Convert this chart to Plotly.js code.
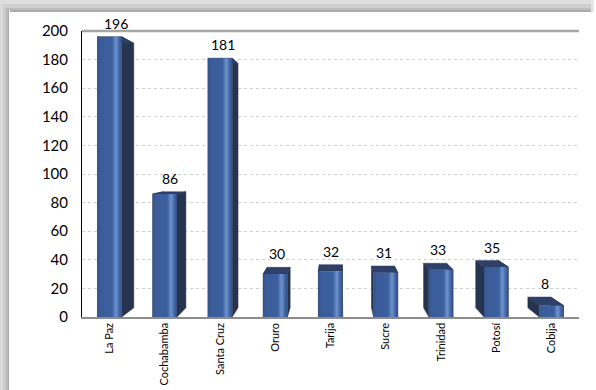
<!DOCTYPE html>
<html>
<head>
<meta charset="utf-8">
<script src="https://cdn.plot.ly/plotly-3.0.1.min.js"></script>
<style>
html,body{margin:0;padding:0;background:#ffffff;}
#chart{width:596px;height:390px;}
</style>
</head>
<body>
<div id="chart"></div>
<script>
// ---- data ----
const categories = ["La Paz","Cochabamba","Santa Cruz","Oruro","Tarija","Sucre","Trinidad","Potosí","Cobija"];
const values = [196, 86, 181, 30, 32, 31, 33, 35, 8];
const yTicks = [0,20,40,60,80,100,120,140,160,180,200];

// ---- 3D projection style parameters ----
const VX = 4.1, VY = 114, K = 0.944, HALF = 0.22;
const proj = (p) => [VX + K * (p[0] - VX), VY + K * (p[1] - VY)];

const traces = [];
const sideX = [], sideY = [], topX = [], topY = [];
const annotations = [];

categories.forEach((c, i) => {
  const v = values[i];
  const x0 = i - HALF, x1 = i + HALF;
  const fl0 = [x0, 0], fr0 = [x1, 0], fr1 = [x1, v], fl1 = [x0, v];
  const bl0 = proj(fl0), br0 = proj(fr0), br1 = proj(fr1), bl1 = proj(fl1);
  [fr0, fr1, br1, br0, fr0].forEach(p => { sideX.push(p[0]); sideY.push(p[1]); });
  sideX.push(null); sideY.push(null);
  [fl0, fl1, bl1, bl0, fl0].forEach(p => { sideX.push(p[0]); sideY.push(p[1]); });
  sideX.push(null); sideY.push(null);
  [fl1, fr1, br1, bl1, fl1].forEach(p => { topX.push(p[0]); topY.push(p[1]); });
  topX.push(null); topY.push(null);
  annotations.push({x: (i + (bl1[0] + br1[0]) / 2) / 2, y: Math.max(v, bl1[1]), xref:'x', yref:'y',
    text: String(v), showarrow: false, yanchor: 'bottom', xanchor: 'center', yshift: 3,
    font: {family: 'Lato, sans-serif', size: 14, color: '#000000'}});
});

traces.push({type:'scatter', mode:'lines', x: sideX, y: sideY, fill:'toself',
  fillcolor:'#27344f', line:{width:0.5, color:'#222d45'}, hoverinfo:'skip', showlegend:false});
traces.push({type:'scatter', mode:'lines', x: topX, y: topY, fill:'toself',
  fillcolor:'#2e4068', line:{width:0.5, color:'#2a3a5e'}, hoverinfo:'skip', showlegend:false});

categories.forEach((c, i) => {
  const v = values[i];
  const x0 = i - HALF, x1 = i + HALF;
  traces.push({type:'scatter', mode:'lines',
    x:[x0, x1, x1, x0, x0], y:[0, 0, v, v, 0],
    fill:'toself', line:{width:0},
    fillgradient:{type:'horizontal',
      colorscale:[[0,'#33538c'],[0.12,'#3a5c99'],[0.6,'#3c5f9e'],[0.76,'#6d93cf'],[0.86,'#4d70ae'],[1,'#2f4c84']]},
    hoverinfo:'skip', showlegend:false});
});

// ---- frame shadow (pixel helpers) ----
const L = 82, T = 31, W = 497, H = 286;
const xp = px => (px - L) / W;
const yp = py => (T + H - py) / H;
const shapes = [];
const rectPx = (x0, y0, x1, y1, col) => shapes.push({type:'rect', xref:'paper', yref:'paper',
  x0: xp(x0), x1: xp(x1), y0: yp(y1), y1: yp(y0), fillcolor: col, line:{width:0}, layer:'below'});
[[0,3,'#dadada'],[3,6,'#cbcbcb'],[6,8,'#b9b9b9'],[8,9,'#a9a9a9']].forEach(b => rectPx(b[0], 0, b[1], 390, b[2]));
[[0,4,'#dedede'],[4,8,'#cfcfcf'],[8,10,'#bdbdbd'],[10,12,'#aaaaaa']].forEach(b => rectPx(b[0], b[0], 591, b[1], b[2]));
rectPx(591, 0, 594, 12, '#e6e6e6');
// solid top border of the plot area
shapes.push({type:'line', xref:'paper', yref:'paper', x0: 0, x1: 1, y0: 1, y1: 1,
  line:{color:'#a6a6a6', width:2.5}, layer:'below'});

const layout = {
  width: 596, height: 390,
  margin: {l: L, r: 596 - L - W, t: T, b: 390 - T - H},
  paper_bgcolor: '#ffffff', plot_bgcolor: 'rgba(0,0,0,0)',
  font: {family: 'Lato, sans-serif', color: '#000000'},
  showlegend: false,
  annotations: annotations,
  xaxis: {range: [-0.5, 8.5], tickmode:'array', tickvals: categories.map((c, i) => i), ticktext: categories,
    tickangle: -90, ticks: '', showgrid: false, zeroline: false,
    showline: true, linecolor: '#8c8c8c', linewidth: 1.5,
    tickfont: {family: 'Lato, sans-serif', size: 11, color: '#000000'}, fixedrange: true},
  xaxis2: {overlaying: 'x', anchor: 'y', side: 'bottom', range: [-0.5, 8.5], tickmode:'array',
    tickvals: categories.map((c, i) => i - 0.5).concat([categories.length - 0.5]),
    ticks: 'outside', ticklen: 6, tickcolor: '#8c8c8c', tickwidth: 1,
    showticklabels: false, showgrid: false, zeroline: false, showline: false},
  yaxis: {range: [0, 200], tickmode:'array', tickvals: yTicks, ticktext: yTicks.map(String),
    ticks: '', ticklabelstandoff: 10,
    showgrid: true, gridcolor: '#cfcfcf', griddash: 'dot', gridwidth: 1,
    zeroline: false, showline: true, linecolor: '#000000', linewidth: 1,
    tickfont: {family: 'Lato, sans-serif', size: 15, color: '#000000'}, fixedrange: true},
  shapes: shapes
};

Plotly.newPlot('chart', traces, layout, {staticPlot: true, displayModeBar: false});
</script>
</body>
</html>
